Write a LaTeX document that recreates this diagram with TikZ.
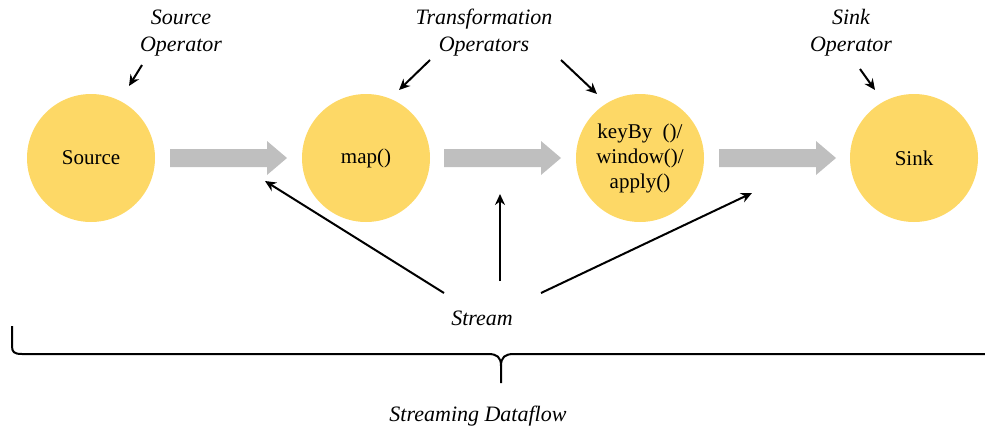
\documentclass[tikz,border=0pt]{standalone}
\usepackage{fontspec}
\setmainfont{Liberation Serif}
\usetikzlibrary{arrows.meta}
\definecolor{opyellow}{RGB}{253,216,102}
\definecolor{flowgray}{RGB}{191,191,191}
\tikzset{
  op/.style={circle,fill=opyellow,minimum size=128pt,inner sep=0pt,align=center,font=\fontsize{21}{25}\selectfont},
  lbl/.style={align=center,font=\fontsize{22}{27}\selectfont\itshape},
  ptr/.style={-{Stealth[length=11pt,width=10pt]},line width=2pt},
  flowfill/.style={fill=flowgray}
}
\newcommand{\flowarrow}[2]{% #1 = left x, #2 = center y
  \fill[flowfill] (#1,#2-9) -- ++(97,0) -- ++(0,-8) -- ++(20,17) -- ++(-20,17) -- ++(0,-8) -- ++(-97,0) -- cycle;}
\begin{document}
\begin{tikzpicture}[x=1pt,y=-1pt]
\useasboundingbox (0,0) rectangle (985,429);
\node[op] (src) at (91,158) {Source};
\node[op] (map) at (366,158) {map()};
\node[op] (key) at (640,158) {keyBy~~()/\\window()/\\apply()};
\node[op] (sink) at (914,158) {Sink};
\flowarrow{170}{158}
\flowarrow{444}{158}
\flowarrow{719}{158}
\node[lbl] (lsrc) at (181,33) {Source\\Operator};
\node[lbl] (ltr) at (484,33) {Transformation\\Operators};
\node[lbl] (lsink) at (851,33) {Sink\\Operator};
\node[lbl] (stream) at (482,318) {Stream};
\node[lbl] (sdf) at (478,416) {Streaming Dataflow};
\coordinate (a1s) at (142,65); \coordinate (a1e) at (129,86);
\coordinate (a2s) at (430,60); \coordinate (a2e) at (399,90);
\coordinate (a3s) at (561,60); \coordinate (a3e) at (597,94);
\coordinate (a4s) at (860,69); \coordinate (a4e) at (875,90);
\draw[ptr] (a1s) -- (a1e);
\draw[ptr] (a2s) -- (a2e);
\draw[ptr] (a3s) -- (a3e);
\draw[ptr] (a4s) -- (a4e);
\coordinate (s1) at (444,293); \coordinate (e1) at (265,181);
\coordinate (s2) at (500,281); \coordinate (e2) at (500,194);
\coordinate (s3) at (541,293); \coordinate (e3) at (752,193);
\draw[ptr] (s1) -- (e1);
\draw[ptr] (s2) -- (e2);
\draw[ptr] (s3) -- (e3);
\draw[line width=2pt] (12,326) -- (12,346) .. controls (12,352) and (14,354) .. (22,354)
  -- (488,354) .. controls (497,354) and (501,357) .. (501,366) -- (501,383);
\draw[line width=2pt] (501,366) .. controls (501,357) and (505,354) .. (514,354) -- (986,354);
\end{tikzpicture}
\end{document}
